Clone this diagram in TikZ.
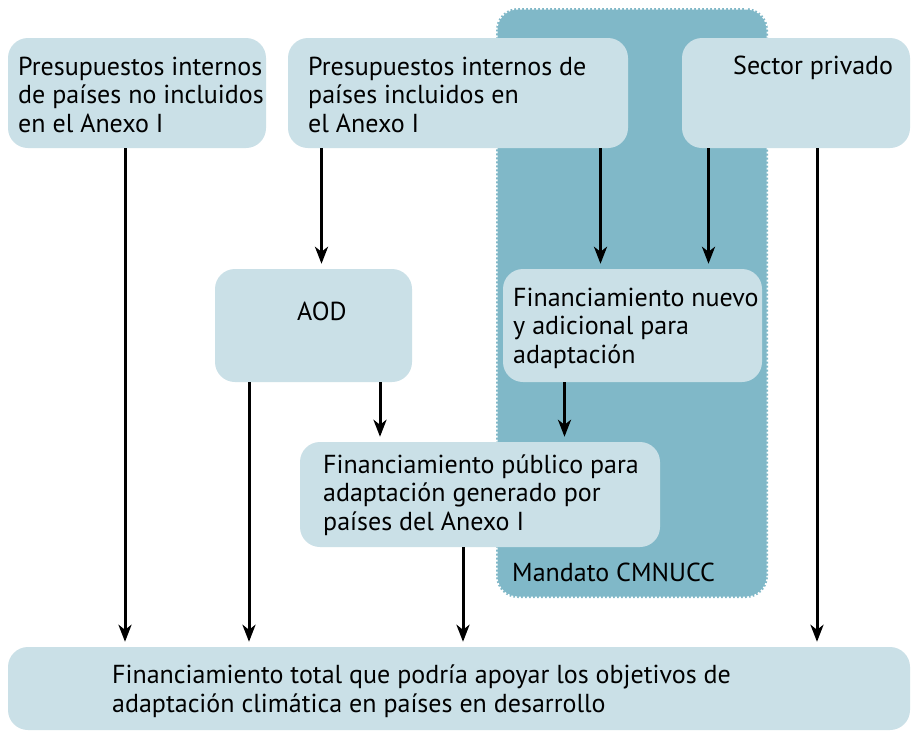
\documentclass[tikz,border=0pt]{standalone}
\usepackage{fontspec}
\setmainfont{PT Sans}
\usetikzlibrary{arrows.meta}
\definecolor{boxfill}{RGB}{202,224,231}
\definecolor{mandfill}{RGB}{128,184,200}
\begin{document}
\begin{tikzpicture}[x=1pt,y=-1pt,
  font=\fontsize{26}{28.5}\selectfont,
  box/.style={draw=none, fill=boxfill, rounded corners=20pt, inner sep=0pt},
  lbl/.style={anchor=base west, inner sep=0pt, align=left},
  arr/.style={line width=3pt, -{Stealth[length=17pt,width=13pt,inset=5pt]}, shorten >=5pt}]
\useasboundingbox (0,0) rectangle (911,732);
\fill[white] (0,0) rectangle (911,732);
% UNFCCC mandate region
\node[fill=mandfill, draw=white, line width=3pt, dash pattern=on 2pt off 2pt,
      rounded corners=22pt, inner sep=0pt, minimum width=272pt, minimum height=590pt] (mand) at (632,303) {};
% boxes
\node[box, minimum width=258pt, minimum height=110pt] (b1) at (137,93) {};
\node[box, minimum width=340pt, minimum height=110pt] (b2) at (458,93) {};
\node[box, minimum width=228pt, minimum height=110pt] (b3) at (796,93) {};
\node[box, minimum width=197pt, minimum height=113pt] (aod) at (313.5,325.5) {};
\node[box, minimum width=259pt, minimum height=113pt] (fnuevo) at (632.5,325.5) {};
\node[box, minimum width=360pt, minimum height=105pt] (fpub) at (480,494.5) {};
\node[box, minimum width=902pt, minimum height=83pt] (total) at (459,688.5) {};
% texts (base anchor = baseline of the last line)
\node[lbl] (t1) at (18,132) {Presupuestos internos\\de países no incluidos\\en el Anexo I};
\node[lbl] (t2) at (308,132) {Presupuestos internos de\\países incluidos en\\el Anexo I};
\node[lbl] (t3) at (733,74) {Sector privado};
\node[lbl] (t4) at (297,320) {AOD};
\node[lbl] (t5) at (513,363) {Financiamiento nuevo\\y adicional para\\adaptación};
\node[lbl] (t6) at (323,530) {Financiamiento público para\\adaptación generado por\\países del Anexo I};
\node[lbl] (t7) at (112,712) {Financiamiento total que podría apoyar los objetivos de\\adaptación climática en países en desarrollo};
\node[lbl] (t8) at (512,581) {Mandato CMNUCC};
% arrows
\draw[arr] ([xshift=-12pt]b1.south) -- ([xshift=-12pt]b1.south |- total.north);
\draw[arr] ([xshift=8pt]aod.north |- b2.south) -- ([xshift=8pt]aod.north);
\draw[arr] ([xshift=-32pt]fnuevo.north |- b2.south) -- ([xshift=-32pt]fnuevo.north);
\draw[arr] ([xshift=76pt]fnuevo.north |- b3.south) -- ([xshift=76pt]fnuevo.north);
\draw[arr] ([xshift=21pt]b3.south) -- ([xshift=21pt]b3.south |- total.north);
\draw[arr] ([xshift=-64.5pt]aod.south) -- ([xshift=-64.5pt]aod.south |- total.north);
\draw[arr] ([xshift=66.5pt]aod.south) -- ([xshift=66.5pt]aod.south |- fpub.north);
\draw[arr] ([xshift=-68pt]fnuevo.south) -- ([xshift=-68pt]fnuevo.south |- fpub.north);
\draw[arr] ([xshift=-17pt]fpub.south) -- ([xshift=-17pt]fpub.south |- total.north);
\end{tikzpicture}
\end{document}
